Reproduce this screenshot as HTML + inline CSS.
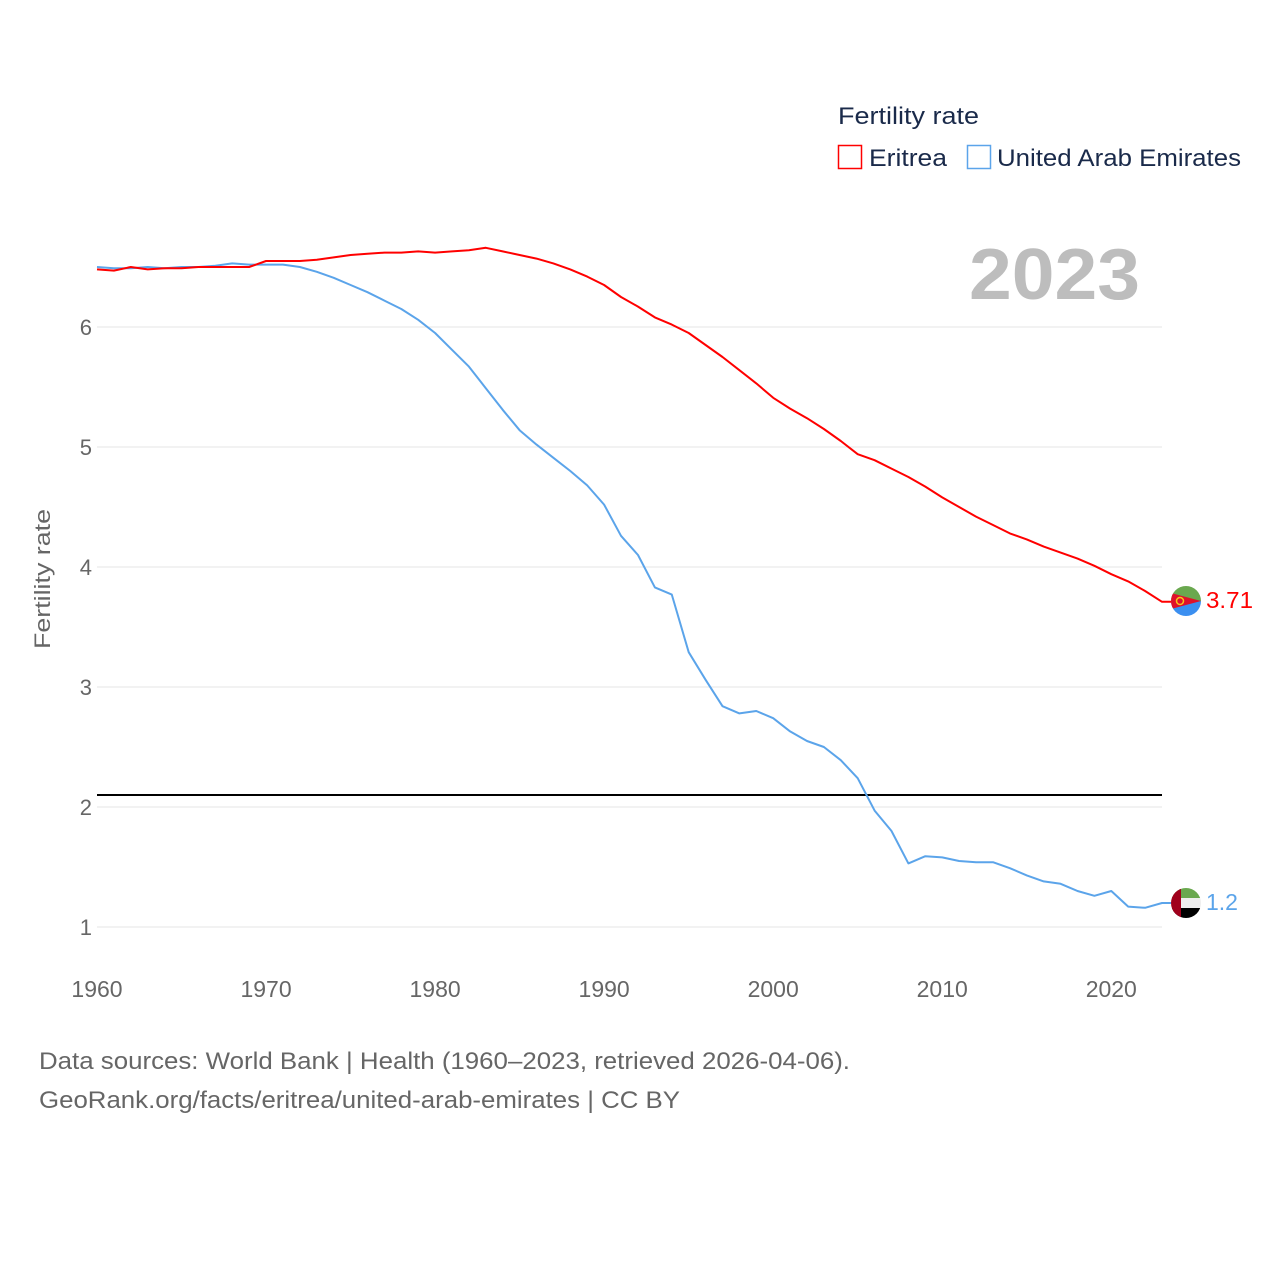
<!DOCTYPE html>
<html><head><meta charset="utf-8"><style>
body{margin:0;background:#fff;width:1280px;height:1280px;overflow:hidden;font-family:"Liberation Sans",sans-serif}
</style></head><body>
<svg id="chart" width="1280" height="1280" xmlns="http://www.w3.org/2000/svg" style="font-family:'Liberation Sans',sans-serif">
<defs>
<clipPath id="c1"><circle cx="1186" cy="601" r="15"/></clipPath>
<clipPath id="c2"><circle cx="1186" cy="903" r="15"/></clipPath>
</defs>
<g id="grid"></g>
<g id="lines"></g>
<text x="838" y="124" font-size="24" fill="#1a2a4a" textLength="141" lengthAdjust="spacingAndGlyphs">Fertility rate</text>
<g><rect x="838.5" y="145.5" width="23" height="23" fill="none" stroke="#ff0000" stroke-width="1.5"/><text x="869" y="166" font-size="24" fill="#1a2a4a" textLength="78" lengthAdjust="spacingAndGlyphs">Eritrea</text></g>
<g><rect x="967.5" y="145.5" width="23" height="23" fill="none" stroke="#5ba4ea" stroke-width="1.5"/><text x="997" y="166" font-size="24" fill="#1a2a4a" textLength="244" lengthAdjust="spacingAndGlyphs">United Arab Emirates</text></g>
<text x="969" y="299" font-size="72" font-weight="bold" fill="#bdbdbd" textLength="171" lengthAdjust="spacingAndGlyphs">2023</text>
<text transform="translate(50,579) rotate(-90)" font-size="22" fill="#666" text-anchor="middle" textLength="140" lengthAdjust="spacingAndGlyphs">Fertility rate</text>
<g clip-path="url(#c1)">
<rect x="1171" y="586" width="30" height="15" fill="#6aa84f"/><rect x="1171" y="601" width="30" height="15" fill="#3b8ff0"/>
<polygon points="1171,593 1201,601 1171,609" fill="#e0112b"/><circle cx="1180" cy="601" r="3.5" fill="none" stroke="#f7c71a" stroke-width="1.5"/></g>
<g clip-path="url(#c2)">
<rect x="1171" y="888" width="30" height="10" fill="#6aa84f"/><rect x="1171" y="898" width="30" height="10" fill="#eee"/><rect x="1171" y="908" width="30" height="10" fill="#000"/><rect x="1171" y="888" width="10" height="30" fill="#a0001c"/></g>
<text x="1206" y="608" font-size="23" fill="#ff0000" textLength="47" lengthAdjust="spacingAndGlyphs">3.71</text>
<text x="1206" y="910" font-size="23" fill="#5ba4ea">1.2</text>
<text x="39" y="1069" font-size="24" fill="#666" textLength="811" lengthAdjust="spacingAndGlyphs">Data sources: World Bank | Health (1960–2023, retrieved 2026-04-06).</text>
<text x="39" y="1108" font-size="24" fill="#666" textLength="641" lengthAdjust="spacingAndGlyphs">GeoRank.org/facts/eritrea/united-arab-emirates | CC BY</text>
</svg>
<script>
const years=[];for(let y=1960;y<=2023;y++)years.push(y);
const eritrea=[6.48,6.47,6.50,6.48,6.49,6.49,6.50,6.50,6.50,6.50,6.55,6.55,6.55,6.56,6.58,6.60,6.61,6.62,6.62,6.63,6.62,6.63,6.64,6.66,6.63,6.60,6.57,6.53,6.48,6.42,6.35,6.25,6.17,6.08,6.02,5.95,5.85,5.75,5.64,5.53,5.41,5.32,5.24,5.15,5.05,4.94,4.89,4.82,4.75,4.67,4.58,4.50,4.42,4.35,4.28,4.23,4.17,4.12,4.07,4.01,3.94,3.88,3.80,3.71];
const uae=[6.50,6.49,6.49,6.50,6.49,6.50,6.50,6.51,6.53,6.52,6.52,6.52,6.50,6.46,6.41,6.35,6.29,6.22,6.15,6.06,5.95,5.81,5.67,5.49,5.31,5.14,5.02,4.91,4.80,4.68,4.52,4.26,4.10,3.83,3.77,3.29,3.06,2.84,2.78,2.80,2.74,2.63,2.55,2.50,2.39,2.24,1.97,1.80,1.53,1.59,1.58,1.55,1.54,1.54,1.49,1.43,1.38,1.36,1.30,1.26,1.30,1.17,1.16,1.20];
const yTicks=[1,2,3,4,5,6];
const xTicks=[1960,1970,1980,1990,2000,2010,2020];
const replacement=2.1;
const NS='http://www.w3.org/2000/svg';
const xs=y=>97+(y-1960)*(1162-97)/63;
const ys=v=>927-(v-1)*120;
const grid=document.getElementById('grid'),lines=document.getElementById('lines');
function mk(t,a,p){const e=document.createElementNS(NS,t);for(const k in a)e.setAttribute(k,a[k]);p.appendChild(e);return e;}
yTicks.forEach(v=>{
 const l=mk('line',{x1:97,x2:1162,y1:ys(v),y2:ys(v),stroke:'#e6e6e6','stroke-width':1},grid);
 
 
 const t=mk('text',{x:92,y:ys(v)+8,'font-size':22,fill:'#666','text-anchor':'end'},grid);t.textContent=v;
 
 
});
xTicks.forEach(v=>{
 const t=mk('text',{x:xs(v),y:997,'font-size':23,fill:'#666','text-anchor':'middle'},grid);t.textContent=v;
 
 
});
const rl=mk('line',{x1:97,x2:1162,y1:ys(replacement),y2:ys(replacement),stroke:'#000','stroke-width':2},lines);


function path(vals,c,name){
 const d=vals.map((v,i)=>(i?'L':'M')+xs(years[i]).toFixed(1)+','+ys(v).toFixed(1)).join(' ')+' L1172,'+ys(vals[vals.length-1]).toFixed(1);
 const p=mk('path',{d:d,fill:'none',stroke:c,'stroke-width':2,'stroke-linejoin':'round'},lines);
 
 
}
path(uae,'#5ba4ea','uae-line');
path(eritrea,'#ff0000','eritrea-line');
</script>
</body></html>
